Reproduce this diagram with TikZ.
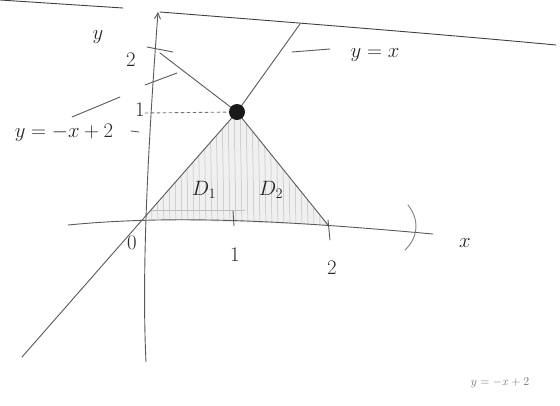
\documentclass[tikz,border=0pt]{standalone}
\usetikzlibrary{arrows.meta}
\begin{document}
\begin{tikzpicture}[x=1pt,y=-1pt,
  pencil/.style={draw=black!65, line width=0.9pt, line cap=round},
  faint/.style={draw=black!25, line width=0.5pt},
  lbl/.style={inner sep=0pt, text=black!85, font=\fontsize{21}{23}\selectfont}]
\useasboundingbox (0,0) rectangle (560,405);
% key points
\coordinate (O) at (143,219);
\coordinate (P) at (237,112);
\coordinate (B) at (328,225);
% shaded region
\fill[black!6] (O) -- (P) -- (B) -- cycle;
\begin{scope}
  \clip (O) -- (P) -- (B) -- cycle;
  \foreach \i in {150,156,...,325} \draw[faint] (\i,100) -- (\i+2,230);
  \draw[faint] (150,210) -- (245,210);
\end{scope}
% top lines
\draw[pencil, black!75] (0,0) -- (123,8);
\draw[pencil, black!75] (160,12) .. controls (300,23) and (450,35) .. (556,45);
% axes
\draw[pencil, -{Straight Barb[length=6pt,width=6pt]}] (146,362) .. controls (141,260) and (150,120) .. (158,12);
\draw[pencil] (68,225) .. controls (180,214) and (300,222) .. (433,234);
\draw[pencil, black!50] (408,205) .. controls (420,220) and (418,238) .. (405,250);
% y = x
\draw[pencil] (22,357) -- (O) -- (P) -- (300,24);
% y = -x + 2
\draw[pencil] (160,53) -- (P) -- (B);
% dashed guide
\draw[pencil, dashed, black!55] (145,113) -- (P);
% ticks
\draw[pencil] (147,47) -- (173,52);
\draw[pencil] (233,211) -- (234,226);
\draw[pencil] (328,220) -- (330,240);
\draw[pencil] (131,131) -- (139,132);
% dot
\fill[black!90] (P) circle (8);
% leaders
\draw[pencil] (72,117) -- (120,97);
\draw[pencil] (145,85) -- (177,73);
\draw[pencil] (292,52) -- (330,49);
% labels
\node[lbl] (ly) at (98,37) {$y$};
\node[lbl] (l2y) at (131,60) {$2$};
\node[lbl] (l1y) at (140,110) {$1$};
\node[lbl] (l0) at (132,243) {$0$};
\node[lbl] (l1x) at (235,255) {$1$};
\node[lbl] (l2x) at (332,268) {$2$};
\node[lbl] (lx) at (465,243) {$x$};
\node[lbl] (lyx) at (375,55) {$y=x$};
\node[lbl] (lyx2) at (64,133) {$y=-x+2$};
\node[lbl] (D1) at (204,190) {$D_1$};
\node[lbl] (D2) at (271,190) {$D_2$};
\node[lbl, text=black!55, font=\fontsize{13}{15}\selectfont] (lb) at (500,383) {$y=-x+2$};
\end{tikzpicture}
\end{document}
